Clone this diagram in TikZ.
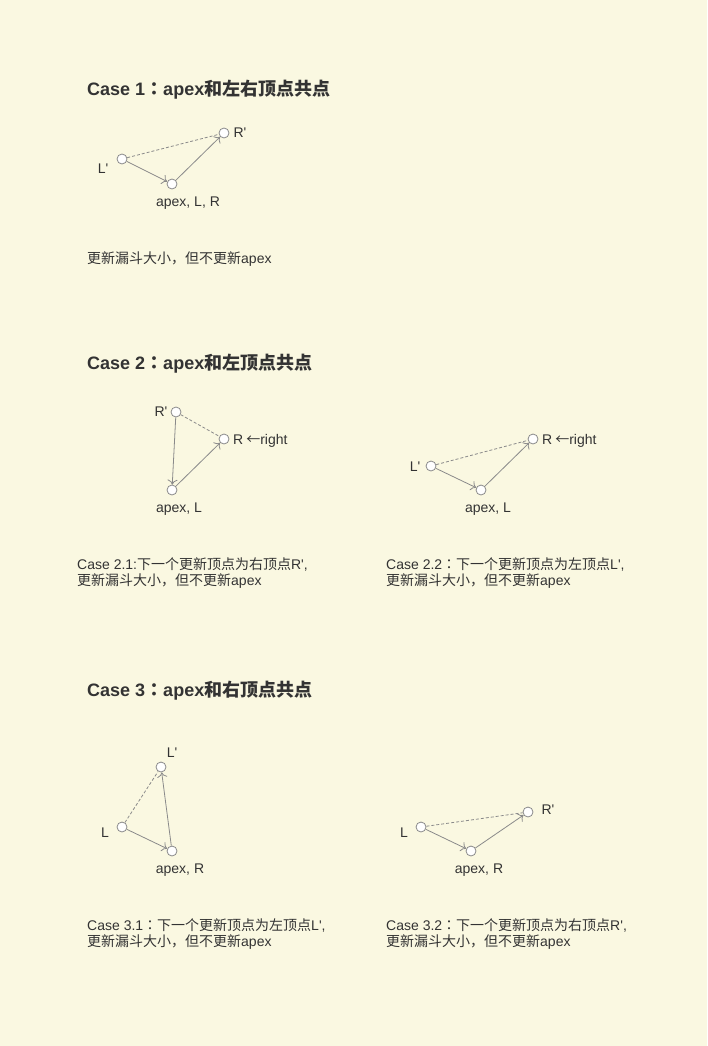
\documentclass[tikz,border=0pt]{standalone}
\usepackage{fontspec}
\setmainfont{Liberation Sans}
\newfontfamily\cjk{Noto Sans CJK SC}
\newfontfamily\cjkc{Noto Sans CJK TC}
\newcommand{\zh}[1]{{\cjk #1}}
\newcommand{\zhcolon}{{\cjkc ：}}
\newcommand{\pr}{\textquotesingle}
\usetikzlibrary{arrows.meta}
\definecolor{paper}{HTML}{FAF8E1}
\definecolor{ink}{HTML}{333333}
\definecolor{edgegray}{HTML}{8A8A8A}

\begin{document}
\begin{tikzpicture}[x=1pt, y=-1pt,
                    vtx/.style={circle, draw=edgegray, fill=white, inner sep=0pt, minimum size=10pt, line width=0.8pt},
                    lbl/.style={anchor=base, inner sep=0pt, text=ink, font=\fontsize{14}{16}\selectfont},
                    txt/.style={anchor=base west, inner sep=0pt, text=ink, font=\fontsize{14}{16}\selectfont},
                    head/.style={anchor=base west, inner sep=0pt, text=ink, font=\fontsize{18}{20}\selectfont\bfseries},
                    arr/.style={-{To[length=5pt,width=10pt]}},
                    guess/.style={dash pattern=on 3pt off 2pt},
                    every edge/.style={draw, edgegray, line width=0.8pt}]

    \useasboundingbox[fill=paper] (0,0) rectangle (707,1046);

    % Case 1
    \node[head] (h1) at (87,96) {Case 1\zhcolon apex\zh{和左右顶点共点}};
    \node[vtx] (A1) at (172,184) {}; % apex, L, R
    \node[vtx] (L1) at (122,159) {}; % L'
    \node[vtx] (R1) at (224,133) {}; % R'
    \node[lbl] (a1) at (188,206) {apex, L, R};
    \node[lbl] (l1) at (103,173) {L\pr};
    \node[lbl] (r1) at (240,138) {R\pr};
    \path [arr](L1) edge (A1);
    \path [arr](A1) edge (R1);
    \path [guess](L1) edge (R1);
    \node[txt] (t1) at (87,263) {\zh{更新漏斗大小，但不更新}apex};

    % Case 2
    \node[head] (h2) at (87,369) {Case 2\zhcolon apex\zh{和左顶点共点}};

    % Case 2.1
    \node[vtx] (A21) at (172,490) {}; % apex, L
    \node[vtx] (P21) at (176,412) {}; % R'
    \node[vtx] (R21) at (224,439) {}; % R
    \node[lbl] (a21) at (179,512) {apex, L};
    \node[lbl] (p21) at (161,416) {R\pr};
    \node[txt] (r21) at (233,444) {R\hspace{3pt}\zh{←}right};
    \path [arr](P21) edge (A21);
    \path [arr](A21) edge (R21);
    \path [guess](P21) edge (R21);
    \node[txt] (t21a) at (77,569) {Case 2.1:\zh{下一个更新顶点为右顶点}R\pr,};
    \node[txt] (t21b) at (77,585) {\zh{更新漏斗大小，但不更新}apex};

    % Case 2.2
    \node[vtx] (A22) at (481,490) {}; % apex, L
    \node[vtx] (P22) at (431,466) {}; % L'
    \node[vtx] (R22) at (533,439) {}; % R
    \node[lbl] (a22) at (488,512) {apex, L};
    \node[lbl] (p22) at (415,471) {L\pr};
    \node[txt] (r22) at (542,444) {R\hspace{3pt}\zh{←}right};
    \path [arr](P22) edge (A22);
    \path [arr](A22) edge (R22);
    \path [guess](P22) edge (R22);
    \node[txt] (t22a) at (386,569) {Case 2.2\zhcolon\zh{下一个更新顶点为左顶点}L\pr,};
    \node[txt] (t22b) at (386,585) {\zh{更新漏斗大小，但不更新}apex};

    % Case 3
    \node[head] (h3) at (87,696) {Case 3\zhcolon apex\zh{和右顶点共点}};

    % Case 3.1
    \node[vtx] (A31) at (172,851) {}; % apex, R
    \node[vtx] (L31) at (122,827) {}; % L
    \node[vtx] (P31) at (161,767) {}; % L'
    \node[lbl] (a31) at (180,873) {apex, R};
    \node[lbl] (l31) at (105,837) {L};
    \node[lbl] (p31) at (172,757) {L\pr};
    \path [arr](L31) edge (A31);
    \path [arr](A31) edge (P31);
    \path [guess](L31) edge (P31);
    \node[txt] (t31a) at (87,930) {Case 3.1\zhcolon\zh{下一个更新顶点为左顶点}L\pr,};
    \node[txt] (t31b) at (87,946) {\zh{更新漏斗大小，但不更新}apex};

    % Case 3.2
    \node[vtx] (A32) at (471,851) {}; % apex, R
    \node[vtx] (L32) at (421,827) {}; % L
    \node[vtx] (P32) at (528,812) {}; % R'
    \node[lbl] (a32) at (479,873) {apex, R};
    \node[lbl] (l32) at (404,837) {L};
    \node[lbl] (p32) at (548,814) {R\pr};
    \path [arr](L32) edge (A32);
    \path [arr](A32) edge (P32);
    \path [guess](L32) edge (P32);
    \node[txt] (t32a) at (386,930) {Case 3.2\zhcolon\zh{下一个更新顶点为右顶点}R\pr,};
    \node[txt] (t32b) at (386,946) {\zh{更新漏斗大小，但不更新}apex};
\end{tikzpicture}
\end{document}
